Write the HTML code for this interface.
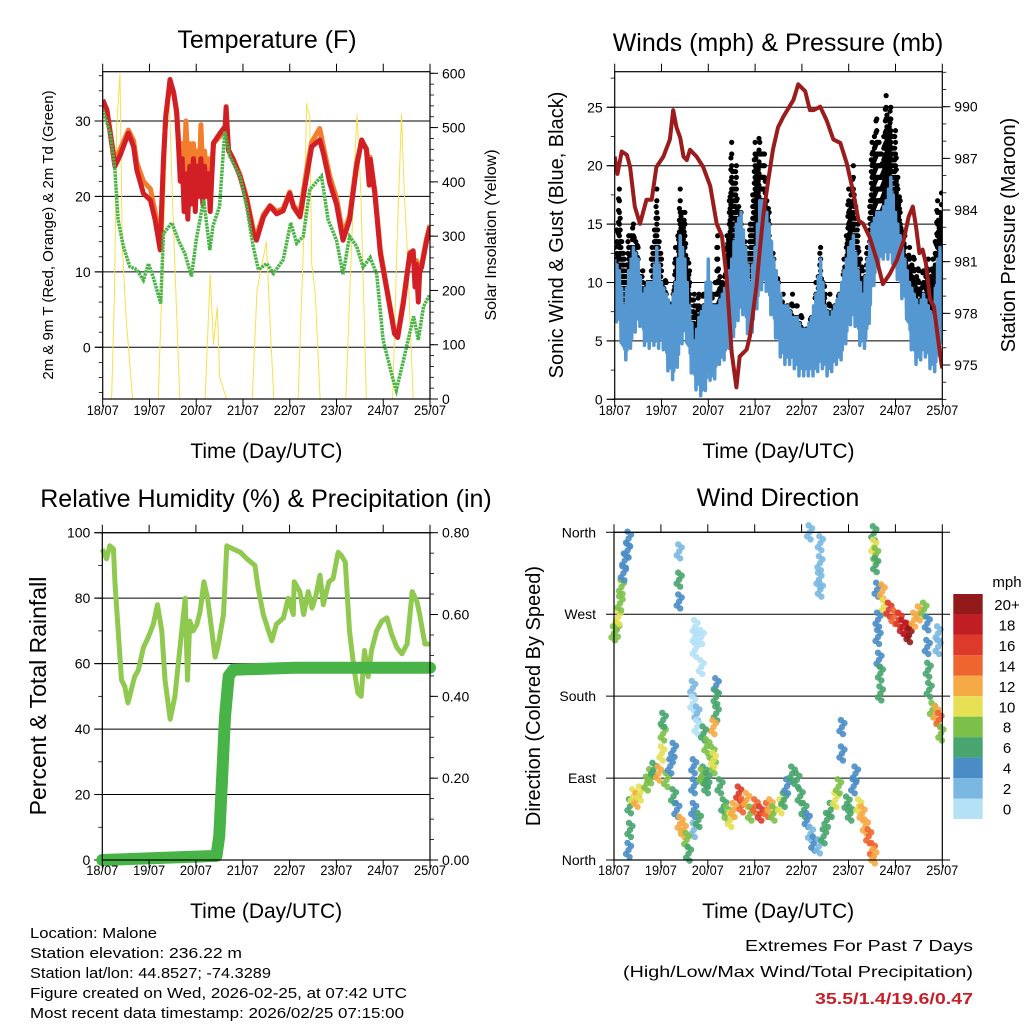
<!DOCTYPE html>
<html><head><meta charset="utf-8"><style>
html,body{margin:0;padding:0;background:#fff}
svg{display:block;font-family:"Liberation Sans",sans-serif}
</style></head><body>
<svg id="c" width="1024" height="1024" viewBox="0 0 1024 1024" xmlns="http://www.w3.org/2000/svg"></svg>
<script>
// ---------- Temperature panel data ----------
const tempT=[0,0.09,0.19,0.26,0.37,0.55,0.66,0.73,0.87,1.02,1.12,1.23,1.3,1.35,1.44,1.52,1.58,1.62,1.66,1.7,1.74,1.78,1.82,1.86,1.9,1.94,1.98,2.02,2.06,2.1,2.14,2.18,2.22,2.26,2.3,2.33,2.37,2.51,2.62,2.64,2.69,2.79,2.94,3.08,3.22,3.29,3.44,3.58,3.72,3.86,4.0,4.08,4.22,4.36,4.47,4.64,4.72,4.86,5.0,5.14,5.28,5.43,5.54,5.64,5.7,5.72,5.82,5.94,6.09,6.24,6.31,6.43,6.57,6.64,6.68,6.71,6.75,6.78,6.82,6.93,7.0];
const temp2m=[32.8,31.5,27.1,24.0,25.4,28.4,26.6,23.5,20.4,19.5,16.9,12.9,24.9,30.6,35.5,33.7,31.1,27,22,25,18,23,17,24,19,25,18,24,20,25,19,24,20,23,18,22,27.1,28.4,29.3,31.9,26.2,24.9,22.6,19.5,15.1,14.2,17.3,18.7,17.7,18.1,20.4,18.6,17.3,22.6,26.6,27.5,25.7,21.7,19.0,14.2,16.9,24.0,27.5,26.2,21.5,24.9,20.4,12.4,7.1,1.8,1.3,5.8,12.4,12.8,8,11,6,10,10.6,14.2,16.0];
const temp9m=[32.6,31.3,27.4,24.6,26.2,28.8,27.4,24.5,22.0,21.0,18.0,13.6,25.0,30.8,35.0,33.5,31.5,28,25,27,22,30,24,27,22,27,24,26,22,29.5,23,26,22,25,20,24,27.0,28.0,28.8,31.0,26.0,25.0,22.8,19.8,15.6,14.8,17.6,18.8,18.0,18.4,20.6,18.8,17.8,23.5,27.2,29.0,26.6,22.6,19.8,15.0,17.4,24.5,27.3,26.4,24,25.2,20.8,12.8,7.4,2.0,1.6,6.2,12.6,11.8,11,11.5,9,11,11,14.5,16.2];
const dewT=[0,0.16,0.26,0.33,0.44,0.58,0.73,0.87,0.98,1.08,1.24,1.3,1.48,1.62,1.76,1.9,2.0,2.16,2.29,2.36,2.5,2.61,2.72,2.94,3.08,3.22,3.33,3.51,3.65,3.86,4.02,4.15,4.29,4.43,4.68,4.82,5.0,5.14,5.28,5.43,5.57,5.72,5.86,6.0,6.21,6.28,6.43,6.65,6.75,6.86,6.97,7.0];
const dewV=[31.5,28.4,23.5,16.9,13.4,10.7,10.3,8.9,11.1,9.3,5.8,15.1,16.5,14.2,12.4,9.4,14.2,19.6,12.9,16.1,18.7,28.6,25.3,22.6,18.6,13.3,10.3,11.1,9.8,11.6,16.5,13.8,14.7,20.9,22.7,16.9,14.2,9.7,14.7,13.4,10.6,11.9,9.7,0.9,-4.3,-5.7,-1.8,4.1,1.0,5.4,6.7,6.7];
const solarT=[0.19,0.25,0.3,0.37,0.42,0.5,0.64,1.19,1.3,1.41,1.5,1.65,2.19,2.3,2.37,2.45,2.5,2.65,3.2,3.3,3.5,3.58,3.66,4.18,4.3,4.36,4.43,4.47,4.55,4.65,5.2,5.3,5.4,5.44,5.52,5.64,6.2,6.3,6.39,6.45,6.5,6.64];
const solarV=[0,190,500,600,280,150,0,0,300,590,350,0,0,230,100,170,40,0,0,200,290,140,0,0,300,545,520,250,190,0,0,230,460,525,380,0,0,300,525,380,300,0];
// ---------- Wind panel data ----------
const windT=[0,0.1,0.2,0.3,0.4,0.5,0.6,0.7,0.8,0.9,1.0,1.1,1.2,1.3,1.4,1.5,1.6,1.7,1.8,1.9,2.0,2.1,2.2,2.3,2.4,2.5,2.6,2.7,2.8,2.9,3.0,3.1,3.2,3.3,3.4,3.5,3.6,3.7,3.8,3.9,4.0,4.1,4.2,4.3,4.4,4.5,4.6,4.7,4.8,4.9,5.0,5.1,5.2,5.3,5.4,5.5,5.6,5.7,5.8,5.9,6.0,6.1,6.2,6.3,6.4,6.5,6.6,6.7,6.8,6.9,7.0];
const windLo=[7,6,3,4,5,7,5,4,5,4,5,3,1.5,2,4,6,3,1,0.5,0,2,1,3,3,4,5,6,8,6,5,7,9,10,8,6,4,3,3,3,2,2,2,2,2,3,2,2,3,3,4,6,7,5,4,5,9,11,12,12,12,11,9,8,5,3,3,4,3,2,3,5];
const windHi=[12,11,8,11,13,12,9,10,10,13,10,9,8,10,14,12,8,5,7,8,12,8,8,9,10,12,15,16,13,10,13,17,17,15,12,10,8,8,7,7,6,6,7,9,12,8,7,8,9,11,13,14,11,9,12,15,16,16,17,19,16,14,12,10,9,8,9,8,7,12,14];
const gustV=[13,18,12,14,15.5,13,11,10,13,18,12,10,8,13,18,16,11,9,9,9,10,9,14,10,14,22,20,16,13,15,22,22.5,21,16,12,10,9,8,9,8,7,6,7,10,13,9,9,8,9,12,18,20,15,11,13,22,24.5,21,26,25,23,17,14,13,12,11,11,12,12,17,18];
const presT=[0,0.06,0.15,0.26,0.33,0.43,0.54,0.68,0.79,0.89,1.04,1.18,1.25,1.32,1.4,1.47,1.54,1.61,1.75,1.89,2.04,2.18,2.29,2.39,2.5,2.6,2.67,2.82,2.89,3.03,3.1,3.18,3.28,3.38,3.49,3.6,3.82,3.92,4.07,4.17,4.25,4.39,4.53,4.67,4.82,4.96,5.1,5.21,5.31,5.45,5.6,5.73,5.88,6.03,6.17,6.28,6.37,6.44,6.51,6.58,6.65,6.74,6.82,6.91,6.98,7.0];
const presV=[987.1,986.1,987.4,987.2,986.5,984.2,983.2,984.6,984.6,986.5,987.1,988.1,989.8,988.8,988.2,987.1,986.9,987.5,987.1,986.5,985.4,983.2,982.5,980.1,975.7,973.7,975.5,975.9,976.7,979.6,981.7,983.8,985.7,987.5,988.8,989.4,990.4,991.3,990.9,989.8,989.8,990.0,989.2,988.1,987.9,986.7,985.0,983.4,983.2,982.4,981.1,979.7,980.3,981.1,982.2,983.6,984.2,983.0,981.5,981.7,980.9,978.8,978.4,976.5,975.1,974.8];
// ---------- RH / rain data ----------
const rhT=[0,0.09,0.16,0.24,0.27,0.34,0.41,0.48,0.55,0.62,0.69,0.77,0.88,0.98,1.09,1.18,1.27,1.34,1.45,1.55,1.66,1.77,1.82,1.87,1.94,2.02,2.09,2.17,2.25,2.34,2.41,2.48,2.59,2.66,2.66,2.8,2.95,3.09,3.26,3.33,3.44,3.55,3.62,3.72,3.87,3.97,4.08,4.1,4.22,4.3,4.4,4.48,4.55,4.65,4.72,4.84,4.93,5.04,5.11,5.19,5.28,5.38,5.46,5.53,5.6,5.68,5.75,5.86,5.97,6.08,6.18,6.29,6.4,6.51,6.62,6.72,6.78,6.89,7.0];
const rhV=[95,92,96,95,85,70,55,53,48,52,56,58,65,68,72,78,70,55,43,50,65,80,55,73,70,72,76,85,80,70,62,66,75,96,96,95,94,92,90,83,75,70,67,72,74,80,75,85,82,75,82,77,80,87,78,85,86,94,93,91,70,58,51,50,64,56,64,70,73,74,69,65,63,66,82,79,75,66,66];
const rainT=[0,2.44,2.5,2.56,2.62,2.7,2.8,4.1,7.0];
const rainV=[0,0.01,0.06,0.2,0.35,0.45,0.465,0.47,0.47];
// ---------- Wind direction data ----------
const dirT=[0,0.06,0.09,0.13,0.16,0.2,0.23,0.29,0.31,
1.39,1.39,1.39,
1.73,1.73,1.86,1.73,1.86,1.68,1.68,1.77,1.77,
2.18,2.18,2.18,2.12,2.09,2.12,
1.91,1.98,1.91,1.98,
1.7,1.7,1.7,1.7,1.8,
0.31,0.34,0.34,0.41,0.48,0.55,0.7,0.77,0.84,0.95,1.02,1.05,1.05,1.12,1.2,1.27,1.27,1.34,1.41,1.48,1.55,1.59,
1.87,1.98,2.12,2.26,2.34,2.41,2.48,2.55,2.66,2.73,2.83,2.91,3.01,3.12,3.26,3.33,3.4,3.55,3.62,3.69,3.8,3.9,3.97,4.05,4.12,4.19,4.26,4.37,4.47,4.54,4.62,4.72,4.79,4.86,4.86,4.97,5.04,5.11,5.15,5.22,5.29,5.36,5.43,5.51,5.54,
4.17,4.4,4.39,4.37,4.4,
5.54,5.54,5.58,5.58,
5.61,5.72,5.75,5.86,5.97,6.08,6.15,6.25,6.29,6.4,6.5,6.61,
5.63,5.63,5.65,5.68,5.68,
6.68,6.68,6.7,6.72,6.79,6.86,6.93,6.97,6.91,6.91];
const dirV=[249,253,267,282,300,315,329,340,353,
339,308,284,
256,245,245,231,212,189,172,161,146,
192,179,161,146,117,103,
139,125,95,81,
103,81,55,33,44,
11,33,59,70,66,73,84,92,99,95,117,139,154,88,103,121,70,55,40,33,22,7,
92,88,110,81,59,51,44,55,73,60,66,51,59,51,55,59,51,59,66,81,95,88,70,55,44,29,18,15,26,44,55,66,81,117,146,62,51,81,95,59,51,37,26,11,4,
360,348,326,308,297,
359,344,335,324,
297,295,278,275,267,264,256,253,247,264,271,275,
264,245,220,205,183,
260,234,209,187,165,161,154,139,249,234];
const dirS=[8,8,10,9,8,4,4,4,4,
3,6,4,
1,1,1,1,0,3,1,2,1,
4,6,6,12,8,8,
6,8,6,6,
4,4,4,3,6,
4,6,6,10,12,11,8,8,6,12,10,8,6,8,5,4,6,4,13,12,8,6,
8,6,10,6,6,8,10,12,16,14,12,8,14,16,14,12,8,10,6,4,6,6,6,6,4,2,4,2,6,6,6,10,8,4,4,6,6,4,4,10,12,12,14,14,12,
2,2,2,2,2,
6,10,8,6,
4,12,10,16,14,16,18,18,20,12,12,8,
4,4,4,6,6,
4,4,6,6,8,12,14,8,2,2];
const cbLabels=["20+","18","16","14","12","10","8","6","4","2","0"];
const cbColors=["#921a1a","#c11d24","#dd3a2b","#ef6530","#f6aa45","#e6e055","#7cc04a","#48a56e","#4a8dc6","#7bb8e1","#b5e1f6"];
const dayLabels=["18/07","19/07","20/07","21/07","22/07","23/07","24/07","25/07"];

const NS="http://www.w3.org/2000/svg";
const svg=document.getElementById('c');
function el(tag,attrs,parent){const e=document.createElementNS(NS,tag);for(const k in attrs)e.setAttribute(k,attrs[k]);(parent||svg).appendChild(e);return e;}
function txt(s,x,y,size,anchor,parent,extra){const t=el('text',Object.assign({x:x,y:y,'font-size':size,'text-anchor':anchor||'middle',fill:'#000'},extra||{}),parent);t.textContent=s;return t;}
function lin(d0,d1,p0,p1){return v=>p0+(v-d0)*(p1-p0)/(d1-d0);}

function panel(name,x0,x1,y0,y1){
  const g=el('g',{});
  
  
  return {g,x0,x1,y0,y1,X:lin(0,7,x0,x1)};
}
function frame(p){
  el('rect',{x:p.x0,y:p.y0,width:p.x1-p.x0,height:p.y1-p.y0,fill:'none',stroke:'#000','stroke-width':1.2},p.g);
}
function xAxis(p,labelY,titleY){
  const g=el('g',{},p.g);
  
  
  for(let i=0;i<dayLabels.length;i++){
    const x=p.X(i);
    el('line',{x1:x,y1:p.y1,x2:x,y2:p.y1+8,stroke:'#000','stroke-width':1},g);
    el('line',{x1:x,y1:p.y0,x2:x,y2:p.y0-8,stroke:'#000','stroke-width':1},g);
    const t=txt(dayLabels[i],x,labelY,13.5,'middle',g,{textLength:32,lengthAdjust:'spacingAndGlyphs'});
    
    
  }
  const tt=txt('Time (Day/UTC)',(p.x0+p.x1)/2,titleY,21,'middle',g);
  
  
}
function yAxis(p,side,vals,labels,Y,minorStep,min,max,grid,name){
  const g=el('g',{},p.g);
  
  
  const x=side==='l'?p.x0:p.x1, dir=side==='l'?-1:1;
  for(let v=min;v<=max+1e-9;v+=minorStep){
    const y=Y(v); if(y<p.y0-0.5||y>p.y1+0.5)continue;
    el('line',{x1:x,y1:y,x2:x+dir*4,y2:y,stroke:'#000','stroke-width':0.8},g);
  }
  vals.forEach((v,i)=>{
    const y=Y(v);
    if(grid) el('line',{x1:p.x0-8,y1:y,x2:p.x1,y2:y,stroke:'#000','stroke-width':1},g);
    el('line',{x1:x,y1:y,x2:x+dir*8,y2:y,stroke:'#000','stroke-width':1},g);
    const t=txt(labels[i],x+dir*12,y+5,14,side==='l'?'end':'start',g);
    
    
  });
}
function vtitle(s,x,y,size,name,g){
  const t=txt(s,x,y,size,'middle',g,{transform:'rotate(-90 '+x+' '+y+')'});
  
  
}
function path(ts,vs,X,Y){return ts.map((t,i)=>(i?'L':'M')+X(t).toFixed(1)+' '+Y(vs[i]).toFixed(1)).join(' ');}

// ===== Panel 1: Temperature =====
{
const p=panel('temperature-panel',102.7,430,71.7,399);
const Y=lin(0,30,347.3,121), S=lin(0,600,399,73.3);
const cp=el('clipPath',{id:'cp1'},p.g);el('rect',{x:p.x0,y:p.y0,width:p.x1-p.x0,height:p.y1-p.y0},cp);
yAxis(p,'l',[0,10,20,30],['0','10','20','30'],Y,2,-6,36,true,'temp-y-axis');
yAxis(p,'r',[0,100,200,300,400,500,600],['0','100','200','300','400','500','600'],S,20,0,600,false,'solar-y-axis');
const d=el('g',{'clip-path':'url(#cp1)'},p.g);
const s=el('path',{d:path(solarT,solarV,p.X,S),fill:'none',stroke:'#f7e04c','stroke-width':1},d);

const o=el('path',{d:path(tempT,temp9m,p.X,Y),fill:'none',stroke:'#f47d2c','stroke-width':5,'stroke-linejoin':'round'},d);

const r=el('path',{d:path(tempT,temp2m,p.X,Y),fill:'none',stroke:'#d21f26','stroke-width':5,'stroke-linejoin':'round'},d);

const gr=el('path',{d:path(dewT,dewV,p.X,Y),fill:'none',stroke:'#4bb447','stroke-width':3.5,'stroke-dasharray':'2.5 0.8'},d);

frame(p);xAxis(p,415,458);
const t=txt('Temperature (F)',267,48,25,'middle',p.g);
vtitle('2m & 9m T (Red, Orange) & 2m Td (Green)',53,235,15,'temp-y-axis-title',p.g);
vtitle('Solar Insolation (Yellow)',496,235,16,'solar-y-axis-title',p.g);
}
// ===== Panel 2: Winds =====
{
const p=panel('winds-panel',614.7,942.3,71.7,399);
const Y=lin(0,25,399.3,107.3), P=lin(975,990,365,106.7);
const cp=el('clipPath',{id:'cp2'},p.g);el('rect',{x:p.x0,y:p.y0,width:p.x1-p.x0,height:p.y1-p.y0},cp);
yAxis(p,'l',[0,5,10,15,20,25],['0','5','10','15','20','25'],Y,2.5,0,28,true,'wind-y-axis');
yAxis(p,'r',[975,978,981,984,987,990],['975','978','981','984','987','990'],P,1,973,992,false,'pressure-y-axis');
const d=el('g',{'clip-path':'url(#cp2)'},p.g);
const gust=el('g',{},d);

for(let i=0;i<windT.length-1;i++){
  for(let k=0;k<6;k++){
    const f=k/6, t=windT[i]+f*(windT[i+1]-windT[i]);
    const g1=gustV[i]+(gustV[i+1]-gustV[i])*f, h1=windHi[i]+(windHi[i+1]-windHi[i])*f;
    const top=g1-((k*7)%5)*0.6;
    for(let v=h1-2;v<=top;v+=1.0){
      el('circle',{cx:p.X(t),cy:Y(v),r:2.6,fill:'#000'},gust);
    }
  }
}
let wd='';
for(let i=0;i<windT.length-1;i++){
  for(let k=0;k<8;k++){
    const f=k/8, t=windT[i]+f*(windT[i+1]-windT[i]);
    const lo=windLo[i]+(windLo[i+1]-windLo[i])*f, hi=windHi[i]+(windHi[i+1]-windHi[i])*f;
    const v=(k%2===0)?hi-((k*3)%4)*0.5:lo+((k*5)%3)*0.6;
    wd+=(wd?'L':'M')+p.X(t).toFixed(1)+' '+Y(v).toFixed(1);
  }
}
const w=el('path',{d:wd,fill:'none',stroke:'#5597d1','stroke-width':3.5,'stroke-linejoin':'round'},d);

const pr=el('path',{d:path(presT,presV,p.X,P),fill:'none',stroke:'#9b1c1c','stroke-width':4,'stroke-linejoin':'round'},d);

frame(p);xAxis(p,415,458);
const t=txt('Winds (mph) & Pressure (mb)',778,51,25,'middle',p.g);
vtitle('Sonic Wind & Gust (Blue, Black)',563,235,20,'wind-y-axis-title',p.g);
vtitle('Station Pressure (Maroon)',1015,235,20,'pressure-y-axis-title',p.g);
}
// ===== Panel 3: RH =====
{
const p=panel('humidity-panel',102.3,430,532.7,860);
const Y=lin(0,100,860,532.7), R=lin(0,0.8,860,532.7);
const cp=el('clipPath',{id:'cp3'},p.g);el('rect',{x:p.x0-8,y:p.y0,width:p.x1-p.x0+16,height:p.y1-p.y0+8},cp);
yAxis(p,'l',[0,20,40,60,80,100],['0','20','40','60','80','100'],Y,10,0,100,true,'rh-y-axis');
yAxis(p,'r',[0,0.2,0.4,0.6,0.8],['0.00','0.20','0.40','0.60','0.80'],R,0.05,0,0.8,false,'rain-y-axis');
const d=el('g',{'clip-path':'url(#cp3)'},p.g);
const rh=el('path',{d:path(rhT,rhV,p.X,Y),fill:'none',stroke:'#90c94f','stroke-width':5,'stroke-linejoin':'round'},d);

const rn=el('path',{d:path(rainT,rainV,p.X,R),fill:'none',stroke:'#48b447','stroke-width':12,'stroke-linejoin':'round','stroke-linecap':'round'},d);

frame(p);xAxis(p,875,918);
const t=txt('Relative Humidity (%) & Precipitation (in)',266,507,25,'middle',p.g);
vtitle('Percent & Total Rainfall',46,696,23,'rh-y-axis-title',p.g);
}
// ===== Panel 4: Wind direction =====
{
const p=panel('wind-direction-panel',614,942.3,532.3,860);
const Y=lin(0,360,860,532.3);
const g=el('g',{},p.g);
['North','East','South','West','North'].forEach((s,i)=>{
  const y=Y(i*90);
  el('line',{x1:606,y1:y,x2:950,y2:y,stroke:'#000','stroke-width':1},g);
  const t=txt(s,596,y+5,14,'end',g);
});
const pts=el('g',{},p.g);
const jit=[[0,0],[2.5,-4],[-2.5,4],[1,7],[-1,-7]];
dirT.forEach((t,i)=>{
  const idx=Math.max(0,Math.min(10,10-Math.floor(dirS[i]/2)));
  jit.forEach(o=>{
    el('circle',{cx:p.X(t)+o[0],cy:Y(dirV[i])+o[1],r:3.2,fill:cbColors[idx],'fill-opacity':0.9},pts);
  });
});
frame(p);xAxis(p,875,918);
const t=txt('Wind Direction',778,506,25,'middle',p.g);
vtitle('Direction (Colored By Speed)',540,696,20,'direction-y-axis-title',p.g);
const cb=el('g',{},p.g);
cbColors.forEach((c,i)=>{
  el('rect',{x:953.3,y:594+i*20.45,width:29.4,height:20.45,fill:c},cb);
  const l=txt(cbLabels[i],1007,594+i*20.45+16,15,'middle',cb);
});
const mu=txt('mph',1007,587,15,'middle',cb);
}
// ===== Footer text =====
{
const g=el('g',{});
const lines=['Location: Malone','Station elevation: 236.22 m','Station lat/lon: 44.8527; -74.3289','Figure created on Wed, 2026-02-25, at 07:42 UTC','Most recent data timestamp: 2026/02/25 07:15:00'];
const lens=[127,212,241,377,374];
lines.forEach((s,i)=>{const t=txt(s,30,938+i*20,14.5,'start',g,{textLength:lens[i],lengthAdjust:'spacingAndGlyphs'});});
const e=el('g',{});
const a=txt('Extremes For Past 7 Days',973,951,16,'end',e,{textLength:228,lengthAdjust:'spacingAndGlyphs'});
const b=txt('(High/Low/Max Wind/Total Precipitation)',973,977,16,'end',e,{textLength:350,lengthAdjust:'spacingAndGlyphs'});
const c=txt('35.5/1.4/19.6/0.47',973,1004,16,'end',e,{fill:'#c8202a','font-weight':'bold',textLength:158,lengthAdjust:'spacingAndGlyphs'});
}
</script>
</body></html>
